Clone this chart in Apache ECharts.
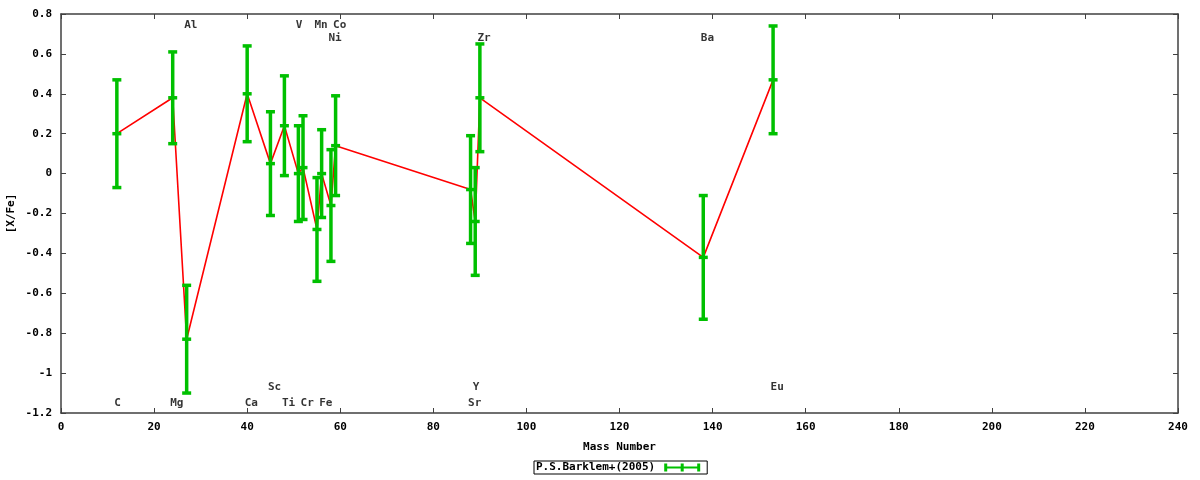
<!DOCTYPE html>
<html>
<head>
<meta charset="utf-8">
<script src="https://cdn.jsdelivr.net/npm/echarts@6/dist/echarts.min.js"></script>
<style>html,body{margin:0;padding:0;background:#fff}#c{width:1200px;height:480px}</style>
</head>
<body>
<div id="c"></div>
<script>
const elements = ['C','Mg','Al','Ca','Sc','Ti','V','Cr','Mn','Fe','Ni','Co','Sr','Y','Zr','Ba','Eu'];
const massNumber = [12,24,27,40,45,48,51,52,55,56,58,59,88,89,90,138,153];
const xfe = [0.20,0.38,-0.83,0.40,0.05,0.24,0.00,0.03,-0.28,0.00,-0.16,0.14,-0.08,-0.24,0.38,-0.42,0.47];
const xfeErr = [0.27,0.23,0.27,0.24,0.26,0.25,0.24,0.26,0.26,0.22,0.28,0.25,0.27,0.27,0.27,0.31,0.27];
const labelY = [-1.15,-1.15,0.745,-1.15,-1.07,-1.15,0.745,-1.15,0.745,-1.15,0.68,0.745,-1.15,-1.07,0.68,0.68,-1.07];
const seriesName = 'P.S.Barklem+(2005)';

const FONT = '"DejaVu Sans Mono", "Liberation Mono", monospace';
const GREEN = '#00c000';
const AX = '#404040';

const errData = massNumber.map((m, i) => [m, xfe[i], xfe[i] - xfeErr[i], xfe[i] + xfeErr[i]]);
const lineData = massNumber.map((m, i) => [m, xfe[i]]);
const labelData = massNumber.map((m, i) => ({ value: [m, labelY[i]], name: elements[i] }));

function axisCommon(show) {
  return {
    axisLine: { show: true, onZero: false, lineStyle: { color: AX, width: 1.5 } },
    axisTick: { show: true, inside: true, length: 5, lineStyle: { color: AX, width: 1 } },
    splitLine: { show: false },
    axisLabel: { show: show, margin: 9, color: '#000', fontFamily: FONT, fontWeight: 'bold', fontSize: 11 }
  };
}

const chart = echarts.init(document.getElementById('c'));
chart.setOption({
  animation: false,
  backgroundColor: '#fff',
  grid: { left: 61, right: 22, top: 14, bottom: 67, containLabel: false, outerBoundsMode: 'none' },
  xAxis: [
    Object.assign(axisCommon(true), {
      type: 'value', min: 0, max: 240, interval: 20, position: 'bottom',
      name: 'Mass Number', nameLocation: 'middle', nameGap: 29,
      nameTextStyle: { color: '#000', fontFamily: FONT, fontWeight: 'bold', fontSize: 11 }
    }),
    Object.assign(axisCommon(false), { type: 'value', min: 0, max: 240, interval: 20, position: 'top' })
  ],
  yAxis: [
    Object.assign(axisCommon(true), {
      type: 'value', min: -1.2, max: 0.8, interval: 0.2, position: 'left',
      name: '[X/Fe]', nameLocation: 'middle', nameGap: 44, nameRotate: 90, nameMoveOverlap: false,
      nameTextStyle: { color: '#000', fontFamily: FONT, fontWeight: 'bold', fontSize: 11 }
    }),
    Object.assign(axisCommon(false), { type: 'value', min: -1.2, max: 0.8, interval: 0.2, position: 'right' })
  ],
  legend: {
    data: [{ name: seriesName, icon: 'path://M0,3H36V5H0Z M0,0H3V8H0Z M16.5,0H19.5V8H16.5Z M33,0H36V8H33Z' }],
    left: 534, top: 461,
    align: 'right',
    itemWidth: 36, itemHeight: 9, itemGap: 4,
    padding: [1, 7, 1, 2],
    borderColor: '#000', borderWidth: 1,
    textStyle: { color: '#000', fontFamily: FONT, fontWeight: 'bold', fontSize: 11, padding: [0, 4, 0, 0] }
  },
  series: [
    {
      name: 'line', type: 'line', data: lineData, symbol: 'none', z: 1,
      lineStyle: { color: '#ff0000', width: 1.6 }, itemStyle: { color: '#ff0000' }, silent: true
    },
    {
      name: seriesName, type: 'custom', data: errData, z: 2,
      itemStyle: { color: GREEN },
      encode: { x: 0, y: [1, 2, 3] },
      renderItem: function (params, api) {
        const x = api.value(0), y = api.value(1), lo = api.value(2), hi = api.value(3);
        const pc = api.coord([x, y]), pl = api.coord([x, lo]), ph = api.coord([x, hi]);
        const bw = 3.5, cw = 9, ch = 3.5;
        const st = { fill: GREEN };
        return {
          type: 'group',
          children: [
            { type: 'rect', shape: { x: pc[0] - bw / 2, y: ph[1], width: bw, height: pl[1] - ph[1] }, style: st },
            { type: 'rect', shape: { x: pc[0] - cw / 2, y: ph[1] - ch / 2, width: cw, height: ch }, style: st },
            { type: 'rect', shape: { x: pc[0] - cw / 2, y: pl[1] - ch / 2, width: cw, height: ch }, style: st },
            { type: 'rect', shape: { x: pc[0] - cw / 2, y: pc[1] - ch / 2, width: cw, height: ch }, style: st }
          ]
        };
      }
    },
    {
      name: 'labels', type: 'scatter', data: labelData, symbolSize: 0, z: 3, silent: true,
      label: {
        show: true, formatter: p => p.data.name, position: [-2.5, 0],
        align: 'left', verticalAlign: 'middle',
        color: '#000', fontFamily: FONT, fontWeight: 'bold', fontSize: 11
      }
    }
  ]
});
</script>
</body>
</html>
